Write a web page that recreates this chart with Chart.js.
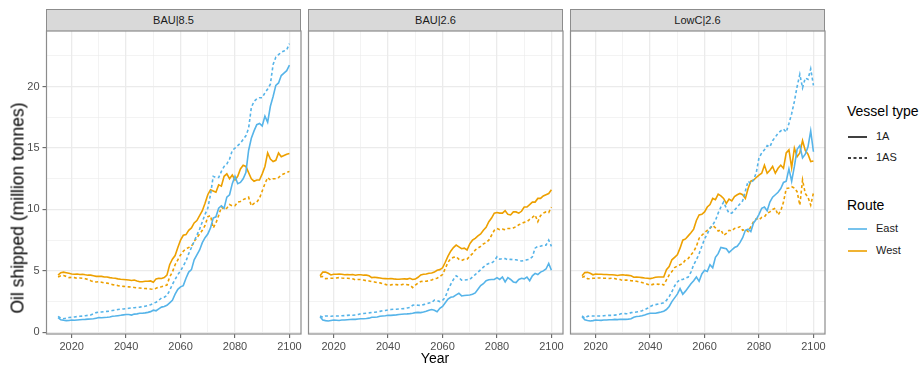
<!DOCTYPE html>
<html>
<head>
<meta charset="utf-8">
<script src="https://cdn.jsdelivr.net/npm/chart.js@4.4.1/dist/chart.umd.min.js"></script>
<style>
  body { margin: 0; background: #fff; font-family: "Liberation Sans", Arial, sans-serif; }
  #fig { position: relative; width: 921px; height: 367px; overflow: hidden; }
  #fig canvas { position: absolute; top: 30px; }
  .strip { position: absolute; top: 9px; height: 22px; box-sizing: border-box; background: #d9d9d9;
           border: 1.2px solid #8c8c8c; border-bottom: none; font-size: 11px; color: #1a1a1a;
           text-align: center; line-height: 21px; }
  .ytitle { position: absolute; left: 18px; top: 208px; transform: translate(-50%, -50%) rotate(-90deg);
            white-space: nowrap; font-size: 17.5px; color: #000; }
  .xtitle { position: absolute; left: 435px; top: 358px; transform: translate(-50%, -50%);
            font-size: 14px; color: #000; }
  .lt { position: absolute; left: 847px; font-size: 14px; color: #000; line-height: 16px; }
  .ll { position: absolute; left: 876px; font-size: 11px; color: #1a1a1a; line-height: 13px; }
  .lk { position: absolute; left: 848px; }
</style>
</head>
<body>
<div id="fig">
  <div class="strip" style="left:46px; width:255px;">BAU|8.5</div>
  <div class="strip" style="left:308px; width:255px;">BAU|2.6</div>
  <div class="strip" style="left:570px; width:255px;">LowC|2.6</div>
  <canvas id="p1" width="303" height="337" style="left:0px;"></canvas>
  <canvas id="p2" width="259" height="337" style="left:306px;"></canvas>
  <canvas id="p3" width="259" height="337" style="left:568px;"></canvas>
  <div class="ytitle">Oil shipped (million tonnes)</div>
  <div class="xtitle">Year</div>

  <div class="lt" style="top:103px;">Vessel type</div>
  <svg class="lk" style="top:134px;" width="20" height="6"><line x1="0" y1="3" x2="19" y2="3" stroke="#000" stroke-width="1.5"/></svg>
  <div class="ll" style="top:130px;">1A</div>
  <svg class="lk" style="top:155px;" width="20" height="6"><line x1="0" y1="3" x2="19" y2="3" stroke="#000" stroke-width="1.5" stroke-dasharray="3,2.5"/></svg>
  <div class="ll" style="top:151px;">1AS</div>

  <div class="lt" style="top:197px;">Route</div>
  <svg class="lk" style="top:226px;" width="20" height="6"><line x1="0" y1="3" x2="19" y2="3" stroke="#56B4E9" stroke-width="1.6"/></svg>
  <div class="ll" style="top:222px;">East</div>
  <svg class="lk" style="top:248px;" width="20" height="6"><line x1="0" y1="3" x2="19" y2="3" stroke="#EDA000" stroke-width="1.6"/></svg>
  <div class="ll" style="top:244px;">West</div>
</div>
<script>
const years = [2015, 2016, 2017, 2018, 2019,
  2020, 2021, 2022, 2023, 2024, 2025, 2026, 2027, 2028, 2029,
  2030, 2031, 2032, 2033, 2034, 2035, 2036, 2037, 2038, 2039,
  2040, 2041, 2042, 2043, 2044, 2045, 2046, 2047, 2048, 2049,
  2050, 2051, 2052, 2053, 2054, 2055, 2056, 2057, 2058, 2059,
  2060, 2061, 2062, 2063, 2064, 2065, 2066, 2067, 2068, 2069,
  2070, 2071, 2072, 2073, 2074, 2075, 2076, 2077, 2078, 2079,
  2080, 2081, 2082, 2083, 2084, 2085, 2086, 2087, 2088, 2089,
  2090, 2091, 2092, 2093, 2094, 2095, 2096, 2097, 2098, 2099,
  2100];

// BAU|8.5
const bau85East1A = [1.2, 1.02, 0.98, 0.95, 0.96,
  1.0, 0.98, 1.0, 1.02, 1.04, 1.05, 1.07, 1.08, 1.1, 1.15,
  1.2, 1.18, 1.2, 1.22, 1.25, 1.3, 1.32, 1.35, 1.38, 1.42,
  1.45, 1.45, 1.4, 1.48, 1.5, 1.55, 1.55, 1.58, 1.62, 1.68,
  1.8, 1.75, 1.9, 2.05, 2.1, 2.2, 2.4, 2.6, 3.1, 3.5,
  3.7, 3.8, 4.4, 4.9, 5.1, 5.9, 6.3, 6.7, 7.3, 7.7,
  8.0, 8.5, 9.3, 9.4, 10.1, 10.3, 10.1, 11.0, 11.2, 12.1,
  12.7, 12.1, 12.2, 12.5, 13.0, 14.8, 15.8, 16.4, 16.9, 17.0,
  16.8, 17.6, 17.1, 18.4, 19.2, 20.1, 20.3, 20.9, 21.1, 21.3,
  21.75];
const bau85East1AS = [1.3, 1.15, 1.1, 1.15, 1.2,
  1.22, 1.25, 1.28, 1.3, 1.32, 1.35, 1.38, 1.4, 1.5, 1.6,
  1.65, 1.65, 1.68, 1.7, 1.72, 1.78, 1.8, 1.85, 1.88, 1.9,
  1.92, 1.95, 1.98, 2.0, 2.02, 2.05, 2.1, 2.12, 2.18, 2.25,
  2.35, 2.45, 2.6, 2.8, 2.85, 3.0, 3.4, 3.9, 4.3, 4.7,
  5.0, 5.4, 5.8, 6.4, 6.9, 7.4, 7.9, 8.4, 9.0, 9.6,
  10.1, 11.2, 12.7, 12.6, 12.6, 13.1, 13.5, 13.7, 14.1, 14.8,
  15.0, 15.2, 15.4, 15.7, 16.0, 16.6, 18.3, 18.8, 19.0, 19.1,
  19.1, 19.5, 19.8, 20.2, 21.8, 22.4, 22.6, 22.8, 22.9, 23.0,
  23.5];
const bau85West1A = [4.65, 4.85, 4.9, 4.85, 4.8,
  4.75, 4.72, 4.75, 4.7, 4.72, 4.68, 4.65, 4.65, 4.6, 4.55,
  4.55, 4.55, 4.5, 4.5, 4.45, 4.42, 4.4, 4.35, 4.32, 4.3,
  4.28, 4.25, 4.22, 4.25, 4.18, 4.12, 4.12, 4.15, 4.15, 4.18,
  4.08, 4.35, 4.4, 4.38, 4.45, 4.65, 5.5, 5.95, 6.25, 6.9,
  7.5, 7.9, 7.95, 8.3, 8.5, 8.9, 9.1, 9.5, 9.9, 10.5,
  11.2, 11.6, 11.5, 11.4, 12.0, 11.9, 12.7, 12.9, 12.5, 12.8,
  12.4, 12.7, 13.3, 13.6, 13.5, 13.0, 12.5, 12.3, 12.4, 12.4,
  12.9, 13.5, 14.6, 14.1, 13.9, 14.0, 14.6, 14.3, 14.4, 14.5,
  14.55];
const bau85West1AS = [4.5, 4.6, 4.62, 4.55, 4.45,
  4.47, 4.45, 4.4, 4.42, 4.4, 4.36, 4.3, 4.2, 4.12, 4.1,
  4.12, 4.08, 4.02, 4.0, 3.95, 3.88, 3.85, 3.8, 3.76, 3.74,
  3.72, 3.7, 3.68, 3.65, 3.62, 3.6, 3.58, 3.56, 3.55, 3.52,
  3.5, 3.58, 3.68, 3.7, 3.78, 3.85, 4.5, 4.9, 5.5, 5.9,
  6.3, 6.6, 6.8, 6.9, 7.0, 7.4, 7.7, 8.0, 8.3, 8.7,
  9.4, 9.5, 8.5, 8.9, 9.5, 10.2, 10.0, 10.1, 10.4, 10.3,
  10.3, 10.6, 10.65, 10.8, 10.9, 11.0, 10.3, 10.5, 10.6, 10.9,
  11.5, 12.1, 12.6, 12.4, 12.5, 12.5, 12.6, 12.8, 12.9, 13.0,
  13.1];

// BAU|2.6
const bau26East1A = [1.27, 1.0, 0.95, 0.92, 0.96,
  1.0, 0.98, 0.96, 1.0, 1.0, 1.02, 1.04, 1.06, 1.05, 1.08,
  1.1, 1.1, 1.12, 1.15, 1.22, 1.22, 1.25, 1.3, 1.33, 1.35,
  1.38, 1.38, 1.4, 1.42, 1.45, 1.47, 1.49, 1.5, 1.52, 1.55,
  1.6, 1.62, 1.6, 1.65, 1.72, 1.8, 1.85, 1.8, 1.68, 1.95,
  2.1, 2.4, 2.7, 2.85, 2.9, 3.04, 3.18, 2.96, 3.0, 3.02,
  3.04, 3.1, 3.2, 3.5, 3.8, 3.95, 4.2, 4.28, 4.3, 4.3,
  4.45, 4.3, 4.5, 4.1, 4.45, 4.3, 4.1, 4.05, 4.3, 4.4,
  4.35, 4.5, 4.2, 4.6, 4.8, 4.7, 4.9, 5.0, 5.15, 5.6,
  5.05];
const bau26East1AS = [1.33, 1.22, 1.33, 1.33, 1.3,
  1.33, 1.32, 1.33, 1.35, 1.36, 1.38, 1.4, 1.39, 1.41, 1.45,
  1.52, 1.53, 1.55, 1.58, 1.62, 1.63, 1.65, 1.7, 1.75, 1.78,
  1.82, 1.85, 1.88, 1.88, 1.9, 1.92, 1.93, 1.98, 2.02, 2.2,
  2.23, 2.2, 2.18, 2.25, 2.3, 2.38, 2.42, 2.62, 2.58, 2.5,
  2.6, 2.85, 3.45, 3.9, 4.3, 4.6, 4.45, 4.25, 4.25, 4.28,
  4.3, 4.5, 4.7, 4.9, 5.1, 5.3, 5.5, 5.6, 5.65, 5.8,
  6.15, 5.95, 6.0, 6.0, 5.9, 5.95, 5.9, 5.9, 5.85, 5.8,
  5.85, 5.9, 5.95, 6.15, 6.85, 7.0, 7.0, 7.1, 7.1, 7.5,
  7.0];
const bau26West1A = [4.6, 4.9, 4.9, 4.8, 4.67,
  4.72, 4.72, 4.75, 4.72, 4.68, 4.7, 4.68, 4.7, 4.65, 4.68,
  4.68, 4.65, 4.65, 4.6, 4.45, 4.48, 4.45, 4.42, 4.38, 4.37,
  4.36, 4.38, 4.35, 4.33, 4.32, 4.34, 4.35, 4.33, 4.4, 4.3,
  4.33, 4.48, 4.67, 4.72, 4.75, 4.8, 4.82, 4.9, 5.05, 5.1,
  5.25, 5.7, 6.2, 6.6, 6.9, 7.1, 6.95, 6.8, 6.85, 6.7,
  7.2, 7.5, 7.65, 7.85, 8.0, 8.3, 8.55, 9.0, 9.3, 9.7,
  9.75, 9.7, 9.7, 9.9, 9.6, 9.55, 9.8, 9.8, 9.7, 9.85,
  10.2, 10.2, 10.4, 10.6, 10.6, 10.9, 10.9, 11.1, 11.2, 11.3,
  11.6];
const bau26West1AS = [4.53, 4.53, 4.37, 4.38, 4.4,
  4.4, 4.42, 4.45, 4.42, 4.4, 4.4, 4.38, 4.35, 4.26, 4.3,
  4.3, 4.25, 4.2, 4.18, 4.12, 4.1, 4.05, 4.02, 3.96, 3.9,
  3.83, 3.86, 3.9, 3.88, 3.85, 3.88, 3.92, 3.88, 3.85, 3.64,
  3.83, 4.0, 4.13, 4.15, 4.15, 4.2, 4.26, 4.35, 4.4, 4.55,
  4.7, 5.2, 5.7, 6.0, 6.1, 6.15, 5.95, 5.85, 5.95, 5.95,
  6.2, 6.4, 6.7, 6.85, 7.0, 7.2, 7.3, 7.5, 7.9, 8.3,
  8.45, 8.35, 8.4, 8.35, 8.45, 8.45, 8.5, 8.6, 8.75, 8.85,
  8.95, 9.0, 9.2, 9.35, 9.55, 9.0, 9.5, 9.7, 9.8, 9.75,
  10.2];

// LowC|2.6
const lowc26East1A = [1.27, 1.02, 0.96, 0.92, 0.95,
  1.0, 0.98, 0.97, 1.0, 1.0, 1.02, 1.02, 1.05, 1.03, 1.06,
  1.05, 1.05, 1.07, 1.1, 1.22, 1.28, 1.3, 1.35, 1.41, 1.48,
  1.55, 1.55, 1.55, 1.6, 1.65, 1.72, 1.85, 2.1, 2.5, 2.8,
  3.1, 3.55, 3.1, 3.35, 3.65, 3.95, 4.2, 4.5, 4.15, 4.75,
  5.05, 4.95, 5.5, 5.25, 6.1, 6.4, 6.9, 6.85, 6.8, 6.5,
  6.7, 6.9, 7.0, 7.3, 7.7, 8.3, 8.4, 8.2, 8.9, 9.2,
  9.6, 10.1, 10.2, 9.9, 10.6, 11.0, 11.2, 11.4, 11.7, 12.2,
  12.3, 13.3, 12.3, 13.5, 14.9, 15.2, 14.2, 14.5, 15.1, 16.4,
  14.7];
const lowc26East1AS = [1.33, 1.15, 1.3, 1.33, 1.32,
  1.33, 1.33, 1.32, 1.35, 1.38, 1.38, 1.38, 1.4, 1.42, 1.48,
  1.55, 1.52, 1.5, 1.6, 1.62, 1.65, 1.68, 1.75, 1.85, 1.95,
  2.1, 2.2, 2.25, 2.3, 2.35, 2.4, 2.6, 2.9, 3.3, 3.77,
  4.1, 4.3, 4.3, 4.4, 4.5, 4.9, 5.5, 5.9, 6.4, 7.0,
  7.6, 8.0, 8.5, 8.75, 9.1, 9.7, 10.2, 10.6, 10.1, 9.7,
  9.7, 9.95, 10.2, 10.45, 10.7, 11.5, 12.3, 12.1, 12.4, 13.0,
  14.2, 14.6, 14.85, 15.2, 15.1, 15.6, 15.9, 16.2, 16.4, 16.55,
  16.3, 17.0, 17.8, 18.8, 20.0, 21.0, 19.9, 20.7, 20.6, 21.45,
  20.1];
const lowc26West1A = [4.6, 4.86, 4.88, 4.8, 4.68,
  4.75, 4.73, 4.72, 4.7, 4.7, 4.68, 4.68, 4.66, 4.62, 4.66,
  4.68, 4.65, 4.63, 4.6, 4.48, 4.5, 4.48, 4.45, 4.42, 4.4,
  4.37, 4.42, 4.48, 4.5, 4.5, 4.5, 5.1, 5.35, 5.9, 6.1,
  6.3, 6.85, 7.5, 7.6, 7.85, 8.1, 8.4, 9.1, 9.55, 9.6,
  9.8, 10.2, 10.4, 10.9, 10.8, 11.25, 11.1, 10.9, 10.5, 10.85,
  10.7, 11.05, 11.2, 11.3, 11.2, 10.9, 11.7, 12.3, 12.4, 12.6,
  12.8, 12.95, 13.6, 12.95, 13.2, 13.5, 12.95, 13.35, 13.6, 13.35,
  14.6, 14.85, 13.4, 15.0, 14.3, 14.6, 15.6, 14.8, 14.5, 13.9,
  13.95];
const lowc26West1AS = [4.48, 4.55, 4.37, 4.36, 4.4,
  4.4, 4.42, 4.42, 4.4, 4.4, 4.38, 4.4, 4.38, 4.3, 4.3,
  4.2, 4.25, 4.25, 4.2, 4.18, 4.15, 4.1, 4.05, 4.0, 3.92,
  3.83, 3.9, 3.94, 3.9, 3.95, 3.85, 4.26, 4.67, 4.94, 5.27,
  5.4, 5.5, 5.6, 5.9, 6.0, 6.3, 6.57, 7.0, 7.65, 7.9,
  8.1, 8.3, 8.45, 8.7, 8.5, 8.25, 8.35, 7.9, 8.05, 8.3,
  8.25, 8.45, 8.5, 8.6, 8.3, 8.4, 8.2, 8.6, 9.0, 9.25,
  9.15, 9.35, 9.4, 9.7, 9.8, 10.0, 10.1, 9.55, 9.9, 10.6,
  11.7, 11.75, 11.85, 11.75, 11.45, 10.35, 12.4, 11.3, 11.0, 10.35,
  11.35];

const xMajor = [2020, 2040, 2060, 2080, 2100];
const xMinor = [2030, 2050, 2070, 2090];
const yMajor = [0, 5, 10, 15, 20];
const yMinor = [2.5, 7.5, 12.5, 17.5, 22.5];

const eastColor = '#56B4E9';
const westColor = '#EDA000';
const fontFamily = '"Liberation Sans", Arial, sans-serif';

const framePlugin = {
  id: 'frame',
  afterDraw(chart) {
    const { ctx, chartArea: a } = chart;
    ctx.save();
    ctx.strokeStyle = '#8c8c8c';
    ctx.lineWidth = 1.2;
    ctx.strokeRect(a.left, a.top, a.right - a.left, a.bottom - a.top);
    ctx.restore();
  }
};

function line(values, color, dashed) {
  return {
    data: values,
    borderColor: color,
    borderWidth: 1.6,
    borderDash: dashed ? [3, 2.5] : [],
    pointRadius: 0,
    tension: 0,
    fill: false,
  };
}

function makePanel(id, east1A, east1AS, west1A, west1AS, showY) {
  const ctx = document.getElementById(id).getContext('2d');
  const gridColor = '#EBEBEB';

  new Chart(ctx, {
    type: 'line',
    data: {
      labels: years,
      datasets: [
        line(east1A, eastColor, false),
        line(east1AS, eastColor, true),
        line(west1A, westColor, false),
        line(west1AS, westColor, true),
      ],
    },
    options: {
      responsive: false,
      animation: false,
      events: [],
      layout: {
        autoPadding: false,
        padding: { top: 1, right: 2, left: 0, bottom: 0 },
      },
      plugins: {
        legend: { display: false },
        tooltip: { enabled: false },
      },
      scales: {
        x: {
          type: 'linear',
          min: 2010.75,
          max: 2104.25,
          afterBuildTicks: axis => {
            axis.ticks = xMajor.concat(xMinor).sort().map(v => ({ value: v }));
          },
          afterFit: scale => {
            scale.height = 33;
            scale.paddingLeft = 0;
            scale.paddingRight = 0;
          },
          border: { display: false },
          grid: {
            color: gridColor,
            lineWidth: c => xMajor.includes(c.tick && c.tick.value) ? 1.3 : 0.6,
            tickLength: 4,
            tickWidth: 1,
            tickColor: c => xMajor.includes(c.tick && c.tick.value) ? '#555555' : 'rgba(0,0,0,0)',
          },
          ticks: {
            autoSkip: false,
            maxRotation: 0,
            padding: 2,
            color: '#4D4D4D',
            font: { size: 11, family: fontFamily },
            callback: v => xMajor.includes(v) ? String(v) : '',
          },
        },
        y: {
          type: 'linear',
          min: -0.14,
          max: 24.53,
          afterBuildTicks: axis => {
            axis.ticks = yMajor.concat(yMinor).sort((a, b) => a - b).map(v => ({ value: v }));
          },
          afterFit: scale => {
            scale.width = showY ? 46.5 : 2.5;
            scale.paddingTop = 0;
            scale.paddingBottom = 0;
          },
          border: { display: false },
          grid: {
            color: gridColor,
            lineWidth: c => yMajor.includes(c.tick && c.tick.value) ? 1.3 : 0.6,
            drawTicks: showY,
            tickLength: 4,
            tickWidth: 1,
            tickColor: c => yMajor.includes(c.tick && c.tick.value) ? '#555555' : 'rgba(0,0,0,0)',
          },
          ticks: {
            display: showY,
            padding: 3,
            color: '#4D4D4D',
            font: { size: 11, family: fontFamily },
            callback: v => yMajor.includes(v) ? String(v) : '',
          },
        },
      },
    },
    plugins: [framePlugin],
  });
}

makePanel('p1', bau85East1A, bau85East1AS, bau85West1A, bau85West1AS, true);
makePanel('p2', bau26East1A, bau26East1AS, bau26West1A, bau26West1AS, false);
makePanel('p3', lowc26East1A, lowc26East1AS, lowc26West1A, lowc26West1AS, false);
</script>
</body>
</html>
